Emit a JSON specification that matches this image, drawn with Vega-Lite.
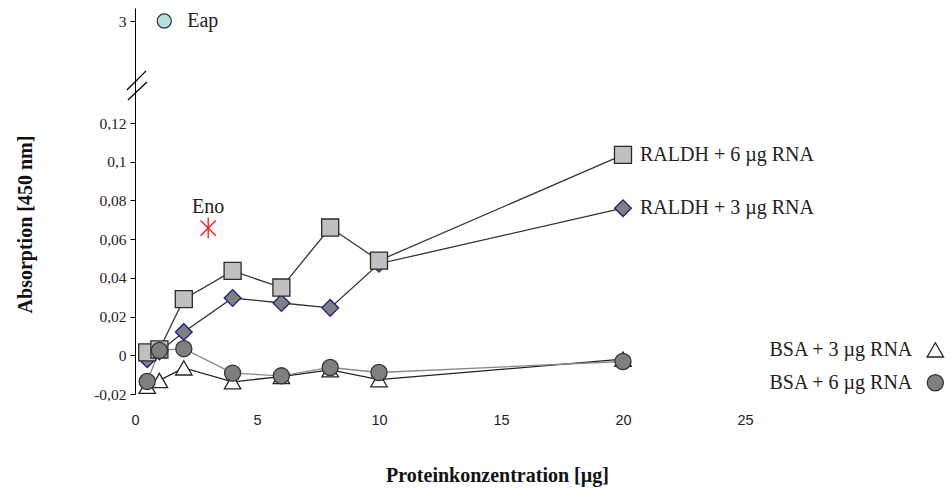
{
  "$schema": "https://vega.github.io/schema/vega-lite/v6.json",
  "width": 610,
  "height": 386,
  "autosize": "none",
  "padding": {"left": 135, "top": 8, "right": 207, "bottom": 94},
  "background": "white",
  "config": {"view": {"stroke": null}},
  "datasets": {
    "main": [
      {"series": "R3", "x": 0.5, "y": -0.002},
      {"series": "R3", "x": 1, "y": 0.002},
      {"series": "R3", "x": 2, "y": 0.012},
      {"series": "R3", "x": 4, "y": 0.0296},
      {"series": "R3", "x": 6, "y": 0.027},
      {"series": "R3", "x": 8, "y": 0.0245},
      {"series": "R3", "x": 10, "y": 0.0473},
      {"series": "R3", "x": 20, "y": 0.076},
      {"series": "R6", "x": 0.5, "y": 0.0015},
      {"series": "R6", "x": 1, "y": 0.003},
      {"series": "R6", "x": 2, "y": 0.029},
      {"series": "R6", "x": 4, "y": 0.0436},
      {"series": "R6", "x": 6, "y": 0.035},
      {"series": "R6", "x": 8, "y": 0.066},
      {"series": "R6", "x": 10, "y": 0.0489},
      {"series": "R6", "x": 20, "y": 0.1035},
      {"series": "B3", "x": 0.5, "y": -0.016},
      {"series": "B3", "x": 1, "y": -0.013},
      {"series": "B3", "x": 2, "y": -0.0065},
      {"series": "B3", "x": 4, "y": -0.0137},
      {"series": "B3", "x": 6, "y": -0.011},
      {"series": "B3", "x": 8, "y": -0.0075},
      {"series": "B3", "x": 10, "y": -0.0126},
      {"series": "B3", "x": 20, "y": -0.002},
      {"series": "B6", "x": 0.5, "y": -0.0135},
      {"series": "B6", "x": 1, "y": 0.0025},
      {"series": "B6", "x": 2, "y": 0.0034},
      {"series": "B6", "x": 4, "y": -0.0092},
      {"series": "B6", "x": 6, "y": -0.0106},
      {"series": "B6", "x": 8, "y": -0.0063},
      {"series": "B6", "x": 10, "y": -0.0089},
      {"series": "B6", "x": 20, "y": -0.0032}
    ],
    "legendSym": [
      {"series": "B3", "x": 32.8, "y": 0.0028},
      {"series": "B6", "x": 32.8, "y": -0.0142}
    ],
    "raldhLabels": [
      {"label": "RALDH + 6 µg RNA", "x": 20, "y": 0.1035},
      {"label": "RALDH + 3 µg RNA", "x": 20, "y": 0.076}
    ],
    "bsaLabels": [
      {"label": "BSA + 3 µg RNA", "x": 32.8, "y": 0.0028},
      {"label": "BSA + 6 µg RNA", "x": 32.8, "y": -0.0142}
    ],
    "eap": [{"label": "Eap", "x": 1.2, "y": 3}],
    "eno": [{"label": "Eno", "x": 3.0, "y": 0.0657}],
    "ticks": [{"t": 5}, {"t": 10}, {"t": 15}, {"t": 20}, {"t": 25}],
    "breaks": [
      {"x": -0.33, "x2": 0.45, "y": 1.162, "y2": 1.762},
      {"x": -0.29, "x2": 0.49, "y": 0.846, "y2": 1.414}
    ]
  },
  "encoding": {
    "x": {
      "field": "x",
      "type": "quantitative",
      "scale": {"domain": [0, 25], "nice": false, "zero": false},
      "axis": {
        "orient": "bottom",
        "values": [0, 5, 10, 15, 20, 25],
        "domain": false,
        "ticks": false,
        "grid": false,
        "labelFlush": false,
        "labelFont": "Liberation Sans",
        "labelFontSize": 14.5,
        "labelColor": "#222",
        "labelPadding": 19,
        "title": "Proteinkonzentration [µg]",
        "titleFont": "Liberation Serif",
        "titleFontSize": 20,
        "titleFontWeight": "bold",
        "titleColor": "#111",
        "titleX": 362,
        "titleY": 81,
        "titleAlign": "center",
        "titleBaseline": "middle"
      }
    },
    "y": {
      "field": "y",
      "type": "quantitative",
      "scale": {"domain": [-0.02, 0.12, 2.93, 3.07], "range": [386, 115, 26, 0], "nice": false, "zero": false},
      "axis": {
        "values": [-0.02, 0, 0.02, 0.04, 0.06, 0.08, 0.1, 0.12, 3],
        "labelExpr": "replace(toString(datum.value), '.', ',')",
        "grid": false,
        "domainColor": "#000",
        "domainWidth": 1,
        "tickColor": "#000",
        "tickSize": 5,
        "labelFont": "Liberation Serif",
        "labelFontSize": 15.5,
        "labelColor": "#222",
        "labelPadding": 4,
        "title": "Absorption [450 nm]",
        "titleFont": "Liberation Serif",
        "titleFontSize": 20,
        "titleFontWeight": "bold",
        "titleColor": "#111",
        "titleX": -110,
        "titleY": 216,
        "titleAngle": -90,
        "titleAlign": "center",
        "titleBaseline": "middle"
      }
    }
  },
  "layer": [
    {
      "data": {"name": "ticks"},
      "mark": {"type": "rule", "color": "#444", "strokeWidth": 1},
      "encoding": {
        "x": {"field": "t", "type": "quantitative"},
        "y": {"datum": 0, "type": "quantitative"},
        "y2": {"datum": -0.0026}
      }
    },
    {
      "data": {"name": "ticks"},
      "mark": {"type": "rule", "color": "#444", "strokeWidth": 1},
      "encoding": {
        "x": {"datum": 0, "type": "quantitative"},
        "x2": {"datum": 25},
        "y": {"datum": 0, "type": "quantitative"}
      }
    },
    {
      "data": {"name": "breaks"},
      "mark": {"type": "rule", "color": "#000", "strokeWidth": 1.2},
      "encoding": {
        "x": {"field": "x", "type": "quantitative"},
        "x2": {"field": "x2"},
        "y": {"field": "y", "type": "quantitative"},
        "y2": {"field": "y2"}
      }
    },
    {
      "data": {"name": "main"},
      "mark": {"type": "line", "strokeWidth": 1.3},
      "encoding": {
        "detail": {"field": "series", "type": "nominal"},
        "color": {
          "field": "series",
          "type": "nominal",
          "scale": {"domain": ["R6", "R3", "B3", "B6"], "range": ["#333333", "#333333", "#222222", "#888888"]},
          "legend": null
        }
      }
    },
    {
      "data": {"name": "main"},
      "mark": {"type": "point", "filled": true, "opacity": 1, "strokeWidth": 1.3},
      "encoding": {
        "shape": {
          "field": "series", "type": "nominal",
          "scale": {"domain": ["R6", "R3", "B3", "B6"], "range": ["square", "diamond", "triangle-up", "circle"]},
          "legend": null
        },
        "fill": {
          "field": "series", "type": "nominal",
          "scale": {"domain": ["R6", "R3", "B3", "B6"], "range": ["#c0c0c0", "#808080", "#ffffff", "#7f7f7f"]},
          "legend": null
        },
        "stroke": {
          "field": "series", "type": "nominal",
          "scale": {"domain": ["R6", "R3", "B3", "B6"], "range": ["#2a2a2a", "#1c1c8c", "#222222", "#333333"]},
          "legend": null
        },
        "size": {
          "field": "series", "type": "nominal",
          "scale": {"domain": ["R6", "R3", "B3", "B6"], "range": [290, 260, 320, 215]},
          "legend": null
        }
      }
    },
    {
      "data": {"name": "legendSym"},
      "mark": {"type": "point", "filled": true, "opacity": 1, "strokeWidth": 1.3},
      "encoding": {
        "shape": {"field": "series", "type": "nominal", "legend": null},
        "fill": {"field": "series", "type": "nominal", "legend": null},
        "stroke": {"field": "series", "type": "nominal", "legend": null},
        "size": {"field": "series", "type": "nominal", "legend": null}
      }
    },
    {
      "data": {"name": "eap"},
      "mark": {"type": "point", "shape": "circle", "filled": true, "opacity": 1, "fill": "#b4dfe1", "stroke": "#333", "strokeWidth": 1.2, "size": 200},
      "encoding": {}
    },
    {
      "data": {"name": "eap"},
      "mark": {"type": "text", "align": "left", "baseline": "middle", "dx": 23, "font": "Liberation Serif", "fontSize": 20, "color": "#222"},
      "encoding": {"text": {"field": "label"}}
    },
    {
      "data": {"name": "eno"},
      "mark": {"type": "point", "shape": "M0,-1L0,1M-0.75,-0.75L0.75,0.75M-0.75,0.75L0.75,-0.75", "filled": false, "opacity": 1, "stroke": "#ff2020", "strokeWidth": 1.4, "size": 420},
      "encoding": {}
    },
    {
      "data": {"name": "eno"},
      "mark": {"type": "text", "align": "center", "baseline": "middle", "dy": -21, "font": "Liberation Serif", "fontSize": 20, "color": "#222"},
      "encoding": {"text": {"field": "label"}}
    },
    {
      "data": {"name": "raldhLabels"},
      "mark": {"type": "text", "align": "left", "baseline": "middle", "dx": 17, "font": "Liberation Serif", "fontSize": 20, "color": "#222"},
      "encoding": {"text": {"field": "label"}}
    },
    {
      "data": {"name": "bsaLabels"},
      "mark": {"type": "text", "align": "right", "baseline": "middle", "dx": -23, "font": "Liberation Serif", "fontSize": 20, "color": "#222"},
      "encoding": {"text": {"field": "label"}}
    }
  ]
}
